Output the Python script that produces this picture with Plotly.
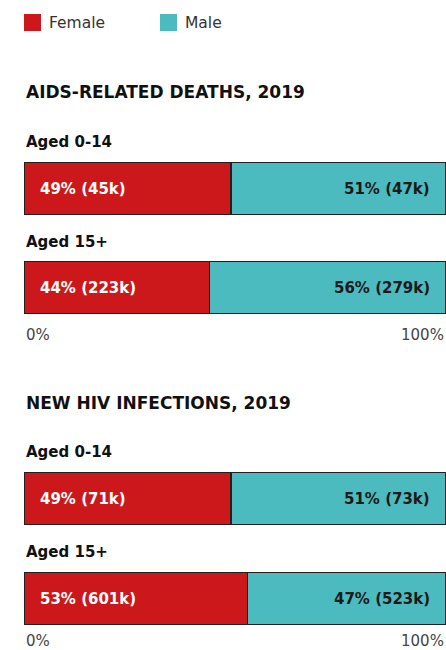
import plotly.graph_objects as go

# ---- data ----
sections = ["AIDS-RELATED DEATHS, 2019", "NEW HIV INFECTIONS, 2019"]
age_groups = ["Aged 0-14", "Aged 15+"]
female_pct = [49, 44, 49, 53]
male_pct = [51, 56, 51, 47]
female_k = [45, 223, 71, 601]
male_k = [47, 279, 73, 523]
axis_ticks = ["0%", "100%"]
legend_names = ["Female", "Male"]

# ---- style ----
W, H = 446, 650
FEMALE = "#cc181a"
MALE = "#4bbbbf"
OUTLINE = "#231f20"
FONT = "DejaVu Sans"
BOLD = "DejaVu Sans"

bar_tops = [162, 261, 472, 572]
bar_h = 53
age_label_y = [142, 242, 452, 552]
title_y = [92, 403]
tick_y = [335, 641]

def py(px):
    return 1 - px / H

fig = go.Figure()
layout = dict(
    width=W, height=H,
    margin=dict(l=24, r=0, t=0, b=0),
    paper_bgcolor="white", plot_bgcolor="white",
    showlegend=False, barmode="stack",
    font=dict(family=FONT, color="#222"),
)
annotations = []
shapes = []

for i in range(4):
    n = "" if i == 0 else str(i + 1)
    xa, ya = "x" + n, "y" + n
    fig.add_trace(go.Bar(
        x=[female_pct[i]], y=[0], orientation="h", width=1,
        marker=dict(color=FEMALE, line=dict(color=OUTLINE, width=1.5)),
        xaxis=xa, yaxis=ya, hoverinfo="skip"))
    fig.add_trace(go.Bar(
        x=[male_pct[i]], y=[0], orientation="h", width=1,
        marker=dict(color=MALE, line=dict(color=OUTLINE, width=1.5)),
        xaxis=xa, yaxis=ya, hoverinfo="skip"))
    top = bar_tops[i]
    layout["xaxis" + n] = dict(range=[0, 100], domain=[0, 1], anchor=ya,
                               visible=False, fixedrange=True)
    layout["yaxis" + n] = dict(range=[-0.5, 0.5], anchor=xa,
                               domain=[py(top + bar_h), py(top)],
                               visible=False, fixedrange=True)
    annotations.append(dict(
        x=0, y=0, xref=xa, yref=ya, xanchor="left", xshift=14,
        text=f"<b>{female_pct[i]}% ({female_k[i]}k)</b>", showarrow=False,
        font=dict(family=BOLD, size=15, color="white")))
    annotations.append(dict(
        x=100, y=0, xref=xa, yref=ya, xanchor="right", xshift=-14,
        text=f"<b>{male_pct[i]}% ({male_k[i]}k)</b>", showarrow=False,
        font=dict(family=BOLD, size=15, color="#1a1a1a")))
    annotations.append(dict(
        x=0, y=py(age_label_y[i]), xref="paper", yref="paper",
        xanchor="left", yanchor="middle", showarrow=False,
        text=f"<b>{age_groups[i % 2]}</b>",
        font=dict(family=BOLD, size=15, color="#111")))

for s in range(2):
    annotations.append(dict(
        x=0, y=py(title_y[s]), xref="paper", yref="paper",
        xanchor="left", yanchor="middle", showarrow=False,
        text=f"<b>{sections[s]}</b>",
        font=dict(family=BOLD, size=17, color="#111")))
    xa = "x" + str(2 * s + 2)
    annotations.append(dict(
        x=0, y=py(tick_y[s]), xref=xa, yref="paper",
        xanchor="left", yanchor="middle", showarrow=False,
        text=axis_ticks[0], font=dict(family=FONT, size=15, color="#444")))
    annotations.append(dict(
        x=100, y=py(tick_y[s]), xref=xa, yref="paper",
        xanchor="right", yanchor="middle", showarrow=False,
        text=axis_ticks[1], font=dict(family=FONT, size=15, color="#444")))

# legend
leg_x = [24, 160]
for j, (name, col) in enumerate(zip(legend_names, [FEMALE, MALE])):
    shapes.append(dict(type="rect", xref="paper", yref="paper",
                       x0=(leg_x[j] - 24) / 422, x1=(leg_x[j] - 24 + 17) / 422,
                       y0=py(31), y1=py(14), fillcolor=col, line=dict(width=0)))
    annotations.append(dict(
        x=(leg_x[j] - 24 + 23) / 422, y=py(23), xref="paper", yref="paper",
        xanchor="left", yanchor="middle", showarrow=False, text=name,
        font=dict(family=FONT, size=15.5, color="#333")))

layout["annotations"] = annotations
layout["shapes"] = shapes
fig.update_layout(**layout)
fig.write_html("out.html", config={"displayModeBar": False},
               post_script="document.body.style.margin='0';")
